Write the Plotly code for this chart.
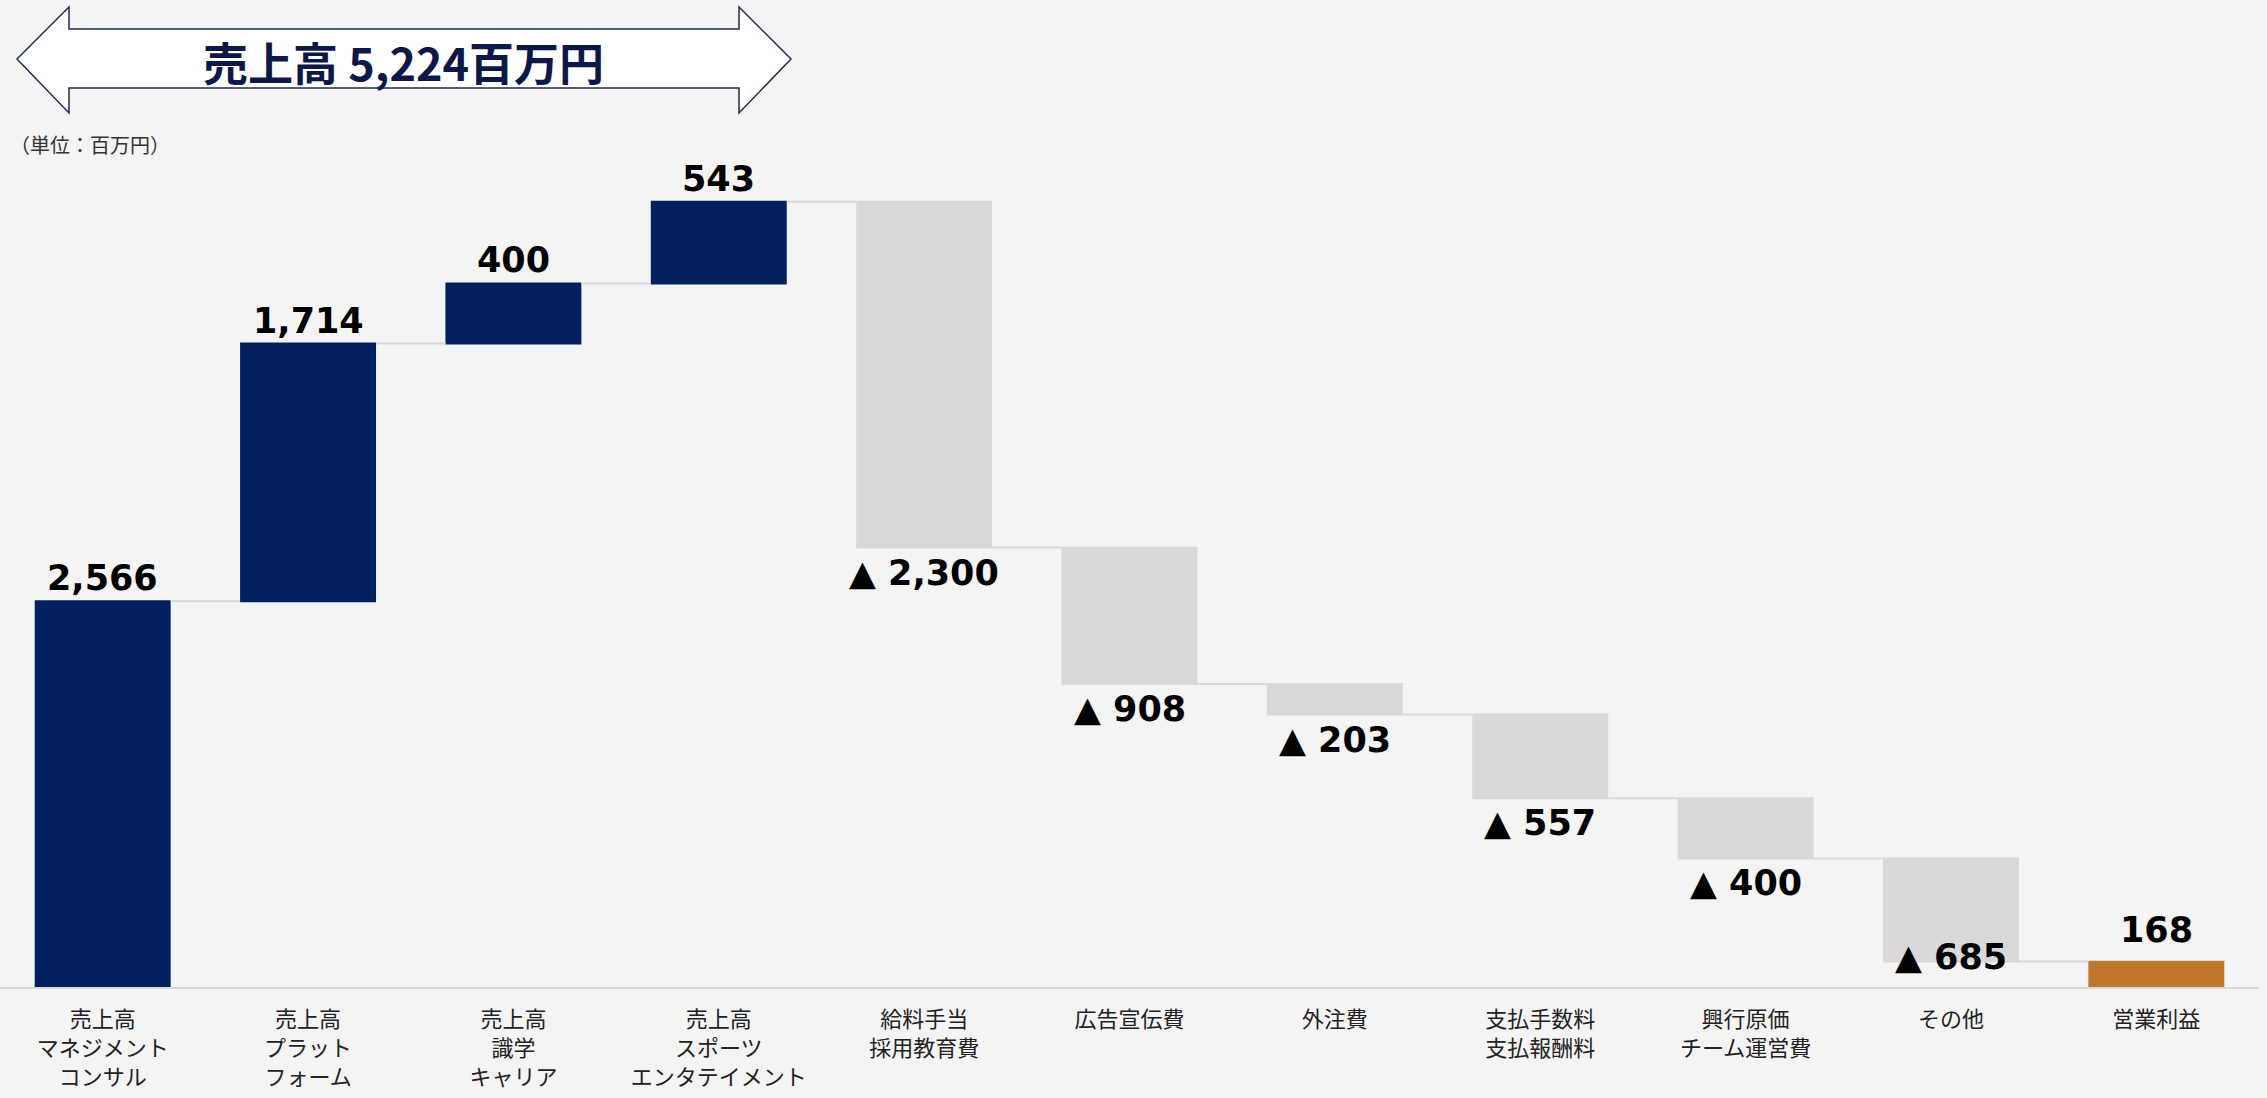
import plotly.graph_objects as go

# ---------------- data ----------------
categories = [
    "売上高<br>マネジメント<br>コンサル",
    "売上高<br>プラット<br>フォーム",
    "売上高<br>識学<br>キャリア",
    "売上高<br>スポーツ<br>エンタテイメント",
    "給料手当<br>採用教育費",
    "広告宣伝費",
    "外注費",
    "支払手数料<br>支払報酬料",
    "興行原価<br>チーム運営費",
    "その他",
    "営業利益",
]
values = [2566, 1714, 400, 543, -2300, -908, -203, -557, -400, -685, 168]
measures = ["relative"] * 10 + ["absolute"]
total_sales_text = "売上高 5,224百万円"
unit_text = "（単位：百万円）"

# ---------------- layout geometry ----------------
W_FIG, H_FIG = 2267, 1098
M_L, M_R, M_T, M_B = 0, 8, 85, 111
PW = W_FIG - M_L - M_R
PH = H_FIG - M_T - M_B
Y_MAX = 6000

NAVY = "#002060"
GRAY = "#d9d9d9"
ORANGE = "#BE772C"
BG = "#f4f4f4"


def px(xp, yp):
    return (xp - M_L) / PW, (H_FIG - M_B - yp) / PH


fig = go.Figure()
fig.add_trace(go.Waterfall(
    x=categories,
    y=values,
    measure=measures,
    increasing=dict(marker=dict(color=NAVY)),
    decreasing=dict(marker=dict(color=GRAY)),
    totals=dict(marker=dict(color=ORANGE)),
    connector=dict(mode="between", line=dict(color=GRAY, width=2)),
    textinfo="none",
    hoverinfo="skip",
))

# value labels
label_font = dict(family="DejaVu Sans", size=35, color="#000000", weight="bold")
extra_shift = {9: 29, 10: 9}
level = 0
for i, (c, v, m) in enumerate(zip(categories, values, measures)):
    if m == "absolute":
        level = v
        top, below = v, False
        text = f"{v:,}"
    else:
        level += v
        if v >= 0:
            top, below = level, False
            text = f"{v:,}"
        else:
            top, below = level, True
            text = f"▲ {abs(v):,}"
    ys = (-3 if below else 1) + extra_shift.get(i, 0)
    fig.add_annotation(
        x=c, y=top, xref="x", yref="y", text=text, showarrow=False,
        xanchor="center", yanchor="top" if below else "bottom",
        yshift=ys, font=label_font,
    )

# double arrow at top
pts = [(17, 59), (69, 7), (69, 29), (739, 29), (739, 7), (791, 59),
       (739, 113), (739, 88), (69, 88), (69, 113)]
path = "M " + " L ".join(f"{px(a, b)[0]:.5f},{px(a, b)[1]:.5f}" for a, b in pts) + " Z"
fig.add_shape(type="path", path=path, xref="paper", yref="paper",
              fillcolor="#ffffff", line=dict(color="#1f2a56", width=1.5), layer="above")
ax_, ay_ = px(403, 61)
fig.add_annotation(x=ax_, y=ay_, xref="paper", yref="paper", text=total_sales_text,
                   showarrow=False, xanchor="center", yanchor="middle",
                   font=dict(family="Noto Sans CJK JP", size=45, color="#0d1846", weight="bold"))
ux, uy = px(8, 144)
fig.add_annotation(x=ux, y=uy, xref="paper", yref="paper", text=unit_text,
                   showarrow=False, xanchor="left", yanchor="middle",
                   font=dict(family="Noto Sans CJK JP", size=20, color="#333333"))

fig.update_layout(
    width=W_FIG, height=H_FIG, autosize=False,
    margin=dict(l=M_L, r=M_R, t=M_T, b=M_B, pad=0),
    paper_bgcolor=BG, plot_bgcolor=BG,
    showlegend=False,
    waterfallgap=0.338,
    xaxis=dict(showline=True, linecolor=GRAY, linewidth=2, ticks="", showgrid=False,
               zeroline=False, tickfont=dict(family="Noto Sans CJK JP", size=22, color="#222222"),
               ticklabelstandoff=12, fixedrange=True),
    yaxis=dict(visible=False, range=[0, Y_MAX], showgrid=False, zeroline=False, fixedrange=True),
)

fig.write_html("out.html")
